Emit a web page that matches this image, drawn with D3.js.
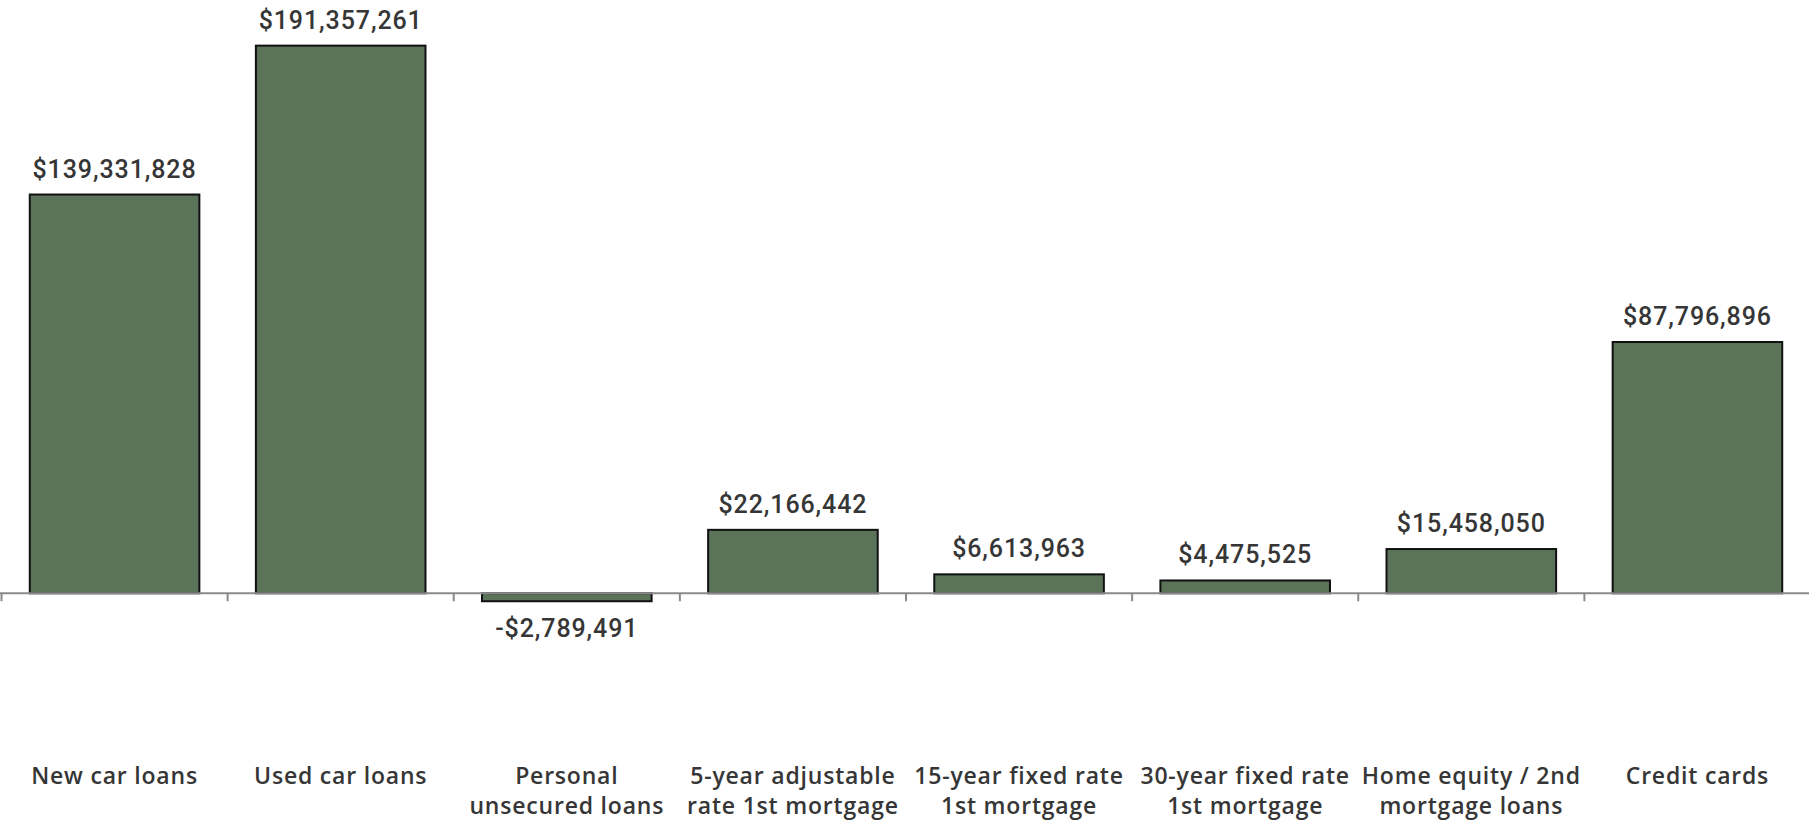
<!DOCTYPE html>
<html>
<head>
<meta charset="utf-8">
<script src="https://cdn.jsdelivr.net/npm/d3@7"></script>
<style>
  html, body { margin: 0; padding: 0; background: #ffffff; }
  svg { display: block; }
</style>
</head>
<body>
<div id="chart"></div>
<script>
// Net change in loan balances by product
const categories = [
  ["New car loans"],
  ["Used car loans"],
  ["Personal", "unsecured loans"],
  ["5-year adjustable", "rate 1st mortgage"],
  ["15-year fixed rate", "1st mortgage"],
  ["30-year fixed rate", "1st mortgage"],
  ["Home equity / 2nd", "mortgage loans"],
  ["Credit cards"]
];
const values = [139331828, 191357261, -2789491, 22166442, 6613963, 4475525, 15458050, 87796896];

const width = 1809, height = 820;
const fmt = v => (v < 0 ? "-$" : "$") + d3.format(",")(Math.abs(v));

const svg = d3.select("#chart").append("svg")
  .attr("width", width).attr("height", height);

const idx = d3.range(categories.length);

const x = d3.scaleBand()
  .domain(idx)
  .range([1.5, 1810.5])
  .paddingInner(0.25)
  .paddingOuter(0.125);

const y = d3.scaleLinear()
  .domain([-70e6, 200e6])
  .range([793.6, 20.9]);

const step = x.step();
const slotStart = i => x(i) - step * x.paddingInner() / 2;

// bars
svg.append("g").selectAll("rect")
  .data(idx)
  .join("rect")
  .attr("x", i => x(i))
  .attr("width", x.bandwidth())
  .attr("y", i => y(Math.max(0, values[i])))
  .attr("height", i => Math.abs(y(values[i]) - y(0)))
  .attr("fill", "#5a7359")
  .attr("stroke", "#111")
  .attr("stroke-width", 2);

// baseline with category ticks
const axis = svg.append("g");
axis.append("line")
  .attr("x1", 0).attr("x2", width)
  .attr("y1", y(0)).attr("y2", y(0))
  .attr("stroke", "#8a8a8a").attr("stroke-width", 2);
axis.selectAll("line.tick")
  .data(d3.range(categories.length + 1))
  .join("line")
  .attr("class", "tick")
  .attr("x1", i => i < categories.length ? slotStart(i) : slotStart(i - 1) + step)
  .attr("x2", i => i < categories.length ? slotStart(i) : slotStart(i - 1) + step)
  .attr("y1", y(0)).attr("y2", y(0) + 8)
  .attr("stroke", "#8a8a8a").attr("stroke-width", 2);

// value labels
svg.append("g").selectAll("text")
  .data(idx)
  .join("text")
  .attr("x", i => x(i) + x.bandwidth() / 2)
  .attr("y", i => values[i] >= 0 ? y(values[i]) - 17 : y(values[i]) + 36)
  .attr("text-anchor", "middle")
  .attr("font-family", "Roboto, 'Noto Sans', sans-serif")
  .attr("font-weight", 500)
  .attr("font-size", 25)
  .attr("letter-spacing", 0.9)
  .attr("fill", "#363636")
  .text(i => fmt(values[i]));

// category labels
const cat = svg.append("g").selectAll("text")
  .data(idx)
  .join("text")
  .attr("x", i => x(i) + x.bandwidth() / 2)
  .attr("y", 783.5)
  .attr("text-anchor", "middle")
  .attr("font-family", "'Open Sans', 'Noto Sans', sans-serif")
  .attr("font-weight", 600)
  .attr("font-size", 23)
  .attr("letter-spacing", 0.8)
  .attr("fill", "#363636");
cat.selectAll("tspan")
  .data(i => categories[i].map(t => ({ t, i })))
  .join("tspan")
  .attr("x", d => x(d.i) + x.bandwidth() / 2)
  .attr("dy", (d, k) => k === 0 ? 0 : 30)
  .text(d => d.t);
</script>
</body>
</html>
